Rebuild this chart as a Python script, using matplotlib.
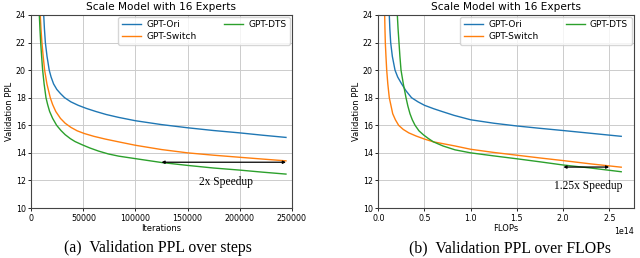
import matplotlib
matplotlib.use("Agg")
import matplotlib.pyplot as plt

# left panel: validation PPL over iterations
it_ori = [11900, 12600, 13500, 15100, 17200, 19000, 21400, 24500, 28000,
          32000, 38000, 45000, 53000, 62000, 72000, 84000, 100000, 125000,
          150000, 175000, 200000, 222000, 244500]
ppl_ori = [24.0, 23.0, 22.0, 21.0, 20.0, 19.5, 19.0, 18.6, 18.3,
           18.0, 17.7, 17.45, 17.22, 17.0, 16.78, 16.57, 16.33, 16.05,
           15.82, 15.62, 15.45, 15.28, 15.12]

it_switch = [8600, 9300, 10200, 11400, 12800, 15000, 18200, 20500, 23500,
             28000, 32500, 38000, 44000, 51000, 60000, 71000, 85000, 100000,
             125000, 150000, 175000, 200000, 222000, 244500]
ppl_switch = [24.0, 23.0, 22.0, 21.0, 20.0, 19.0, 18.0, 17.5, 17.0,
              16.5, 16.15, 15.85, 15.6, 15.4, 15.2, 15.0, 14.78, 14.55,
              14.24, 14.0, 13.83, 13.68, 13.55, 13.42]

it_dts = [7700, 8300, 9000, 9900, 10900, 12300, 14100, 15700, 17600, 20500,
          24300, 28500, 32500, 37500, 42000, 48400, 56000, 64500, 74000,
          84000, 100000, 125000, 150000, 175000, 200000, 222000, 244500]
ppl_dts = [24.0, 23.0, 22.0, 21.0, 20.0, 19.0, 18.0, 17.5, 17.0, 16.5,
           16.0, 15.62, 15.32, 15.03, 14.82, 14.6, 14.36, 14.13, 13.92,
           13.76, 13.58, 13.3, 13.09, 12.9, 12.75, 12.6, 12.46]

# right panel: validation PPL over FLOPs (x 1e14)
fl_ori = [0.119, 0.125, 0.134, 0.152, 0.181, 0.21, 0.253, 0.30, 0.36, 0.43,
          0.50, 0.60, 0.69, 0.82, 1.0, 1.25, 1.5, 1.75, 2.0, 2.3, 2.63]
fpl_ori = [24.0, 23.0, 22.0, 21.0, 20.0, 19.5, 19.0, 18.5, 18.0, 17.7,
           17.45, 17.2, 17.0, 16.72, 16.4, 16.15, 15.95, 15.78, 15.62,
           15.42, 15.2]

fl_switch = [0.069, 0.072, 0.076, 0.083, 0.091, 0.103, 0.119, 0.135, 0.156,
             0.185, 0.22, 0.27, 0.33, 0.41, 0.50, 0.596, 0.83, 1.0, 1.25,
             1.5, 1.75, 2.0, 2.3, 2.63]
fpl_switch = [24.0, 23.0, 22.0, 21.0, 20.0, 19.0, 18.0, 17.5, 16.84,
              16.4, 16.0, 15.7, 15.45, 15.22, 15.0, 14.8, 14.5, 14.26, 14.03,
              13.83, 13.63, 13.44, 13.2, 12.96]

fl_dts = [0.206, 0.214, 0.224, 0.234, 0.246, 0.271, 0.30, 0.32, 0.343, 0.368,
          0.398, 0.44, 0.49, 0.54, 0.596, 0.70, 0.83, 1.0, 1.25, 1.5, 1.75,
          2.0, 2.3, 2.63]
fpl_dts = [24.0, 23.0, 22.0, 21.0, 20.0, 19.0, 18.0, 17.4, 16.84, 16.4,
           16.0, 15.6, 15.3, 15.05, 14.8, 14.5, 14.22, 14.0, 13.78, 13.57,
           13.35, 13.12, 12.9, 12.63]

title = "Scale Model with 16 Experts"
labels = ["GPT-Ori", "GPT-Switch", "GPT-DTS"]
colors = ["tab:blue", "tab:orange", "tab:green"]

tick_fs = 5.7
label_fs = 6.0
title_fs = 7.6
leg_fs = 6.5
cap_fs = 11.3
note_fs = 8.3


def style(ax, xlabel):
    ax.set_ylim(10, 24)
    ax.set_yticks([10, 12, 14, 16, 18, 20, 22, 24])
    ax.grid(True, linewidth=0.7, color="#cccccc")
    ax.set_axisbelow(True)
    ax.tick_params(labelsize=tick_fs, length=2.5, width=0.6, pad=1.5)
    for s in ax.spines.values():
        s.set_linewidth(0.8)
        s.set_color("#444444")
    ax.set_ylabel("Validation PPL", fontsize=label_fs, labelpad=1)
    ax.set_xlabel(xlabel, fontsize=label_fs, labelpad=1)
    ax.set_title(title, fontsize=title_fs, pad=3.5)
    ax.legend(loc="upper right", ncol=2, fontsize=leg_fs, handlelength=2.1,
              handletextpad=0.6, borderpad=0.4, labelspacing=0.3,
              columnspacing=3.0, borderaxespad=0.2, framealpha=0.8)


def arrow(ax, x0, x1, y):
    ax.annotate("", xy=(x1, y), xytext=(x0, y),
                arrowprops=dict(arrowstyle="<|-|>", color="black", lw=0.9,
                                mutation_scale=4, shrinkA=0, shrinkB=0))


fig = plt.figure(figsize=(6.4, 2.58), dpi=100)
ax1 = fig.add_axes([31.3 / 640, 1 - 208 / 258, 260.4 / 640, 193 / 258])
ax2 = fig.add_axes([378.3 / 640, 1 - 208 / 258, 255.2 / 640, 193 / 258])

ax1.plot(it_ori, ppl_ori, color=colors[0], lw=1.0, label=labels[0])
ax1.plot(it_switch, ppl_switch, color=colors[1], lw=1.0, label=labels[1])
ax1.plot(it_dts, ppl_dts, color=colors[2], lw=1.0, label=labels[2])
ax1.set_xlim(0, 250000)
ax1.set_xticks([0, 50000, 100000, 150000, 200000, 250000])
style(ax1, "Iterations")
arrow(ax1, 125000, 244500, 13.32)
ax1.text(186500, 11.87, "2x Speedup", fontsize=note_fs,
         family="Liberation Serif", ha="center", va="center")

ax2.plot([x * 1e14 for x in fl_ori], fpl_ori, color=colors[0], lw=1.0,
         label=labels[0])
ax2.plot([x * 1e14 for x in fl_switch], fpl_switch, color=colors[1], lw=1.0,
         label=labels[1])
ax2.plot([x * 1e14 for x in fl_dts], fpl_dts, color=colors[2], lw=1.0,
         label=labels[2])
ax2.set_xlim(0, 2.763e14)
ax2.set_xticks([0, 0.5e14, 1.0e14, 1.5e14, 2.0e14, 2.5e14])
style(ax2, "FLOPs")
ax2.xaxis.get_offset_text().set_fontsize(tick_fs)
arrow(ax2, 2.004e14, 2.5e14, 12.97)
ax2.text(2.27e14, 11.6, "1.25x Speedup", fontsize=note_fs,
         family="Liberation Serif", ha="center", va="center")

fig.text(157.5 / 640, 1 - 248 / 258, "(a)  Validation PPL over steps",
         fontsize=cap_fs, family="Liberation Serif", ha="center", va="center")
fig.text(510 / 640, 1 - 248 / 258, "(b)  Validation PPL over FLOPs",
         fontsize=cap_fs, family="Liberation Serif", ha="center", va="center")

fig.savefig("out.png", dpi=100)
